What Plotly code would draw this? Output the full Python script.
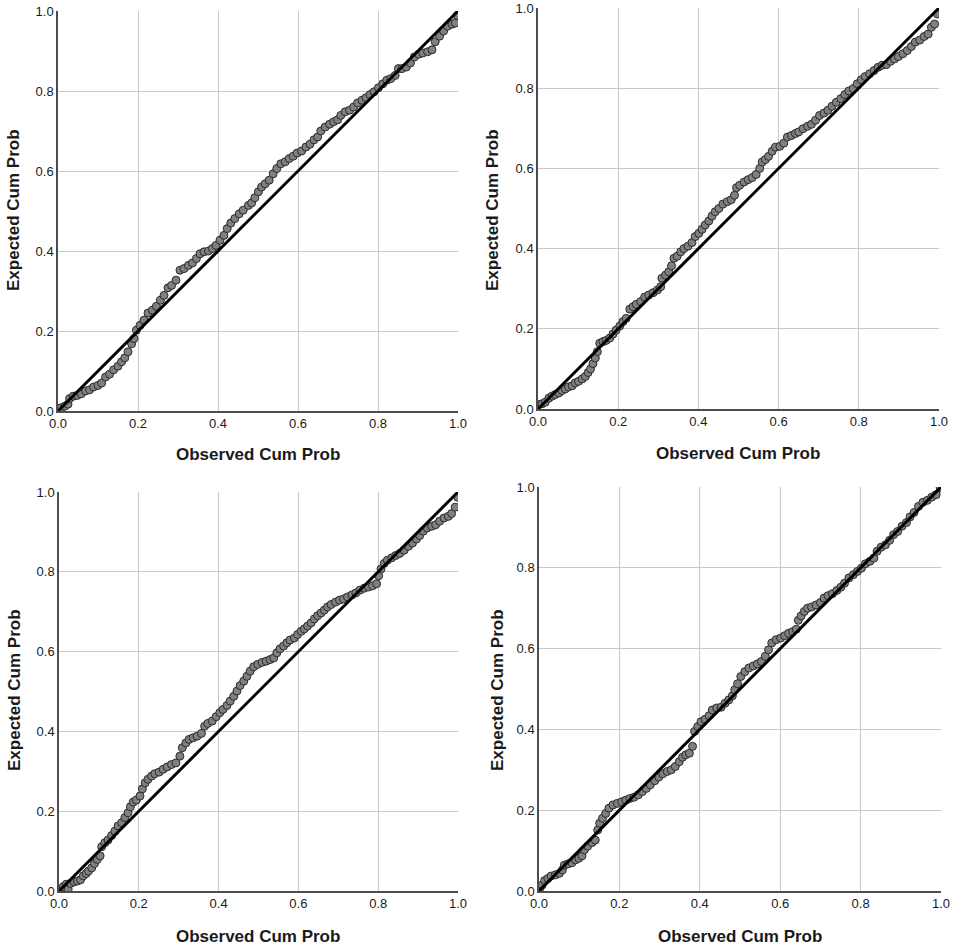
import plotly.graph_objects as go

# P-P plots: observed vs expected cumulative probability, four samples

# panel 1 (top left)
obs_1 = [0.001, 0.008, 0.017, 0.025, 0.029, 0.038, 0.048, 0.058, 0.069, 0.079, 0.089, 0.1, 0.109,
         0.119, 0.129, 0.139, 0.15, 0.159, 0.167, 0.175, 0.184, 0.19, 0.196, 0.205, 0.215, 0.225,
         0.236, 0.246, 0.256, 0.265, 0.275, 0.284, 0.295, 0.305, 0.315, 0.326, 0.336, 0.346, 0.355,
         0.365, 0.376, 0.386, 0.395, 0.405, 0.415, 0.423, 0.432, 0.442, 0.453, 0.463, 0.476, 0.484,
         0.492, 0.501, 0.509, 0.518, 0.528, 0.538, 0.547, 0.557, 0.568, 0.578, 0.588, 0.598, 0.609,
         0.62, 0.63, 0.64, 0.649, 0.657, 0.668, 0.679, 0.689, 0.699, 0.707, 0.718, 0.729, 0.739,
         0.749, 0.76, 0.77, 0.78, 0.79, 0.801, 0.812, 0.822, 0.832, 0.843, 0.851, 0.86, 0.871, 0.881,
         0.891, 0.902, 0.912, 0.924, 0.935, 0.943, 0.954, 0.964, 0.974, 0.985, 0.993, 0.998]
exp_1 = [0.006, 0.008, 0.012, 0.017, 0.031, 0.037, 0.039, 0.043, 0.05, 0.053, 0.06, 0.064, 0.07,
         0.085, 0.092, 0.103, 0.112, 0.123, 0.133, 0.148, 0.168, 0.181, 0.202, 0.214, 0.227, 0.245,
         0.252, 0.262, 0.277, 0.289, 0.308, 0.314, 0.327, 0.352, 0.356, 0.364, 0.37, 0.381, 0.393,
         0.398, 0.4, 0.406, 0.414, 0.427, 0.439, 0.456, 0.47, 0.481, 0.493, 0.502, 0.514, 0.52,
         0.533, 0.548, 0.56, 0.568, 0.577, 0.593, 0.606, 0.618, 0.623, 0.631, 0.637, 0.645, 0.65,
         0.66, 0.667, 0.678, 0.685, 0.7, 0.71, 0.717, 0.723, 0.728, 0.739, 0.748, 0.752, 0.76,
         0.77, 0.777, 0.783, 0.791, 0.798, 0.808, 0.818, 0.827, 0.831, 0.839, 0.856, 0.856, 0.86, 0.87,
         0.885, 0.892, 0.895, 0.898, 0.903, 0.923, 0.937, 0.95, 0.962, 0.967, 0.97, 0.989]

# panel 2 (top right)
obs_2 = [0.002, 0.01, 0.018, 0.027, 0.035, 0.043, 0.052, 0.06, 0.068, 0.076, 0.085, 0.093, 0.101,
         0.11, 0.118, 0.125, 0.131, 0.137, 0.143, 0.148, 0.154, 0.162, 0.17, 0.179, 0.187, 0.195,
         0.204, 0.212, 0.22, 0.229, 0.237, 0.245, 0.256, 0.266, 0.276, 0.287, 0.298, 0.306, 0.309,
         0.318, 0.326, 0.333, 0.339, 0.347, 0.356, 0.364, 0.374, 0.384, 0.392, 0.401, 0.409, 0.417,
         0.426, 0.434, 0.442, 0.451, 0.461, 0.472, 0.482, 0.49, 0.495, 0.503, 0.514, 0.524, 0.534,
         0.544, 0.553, 0.559, 0.567, 0.575, 0.584, 0.592, 0.603, 0.613, 0.622, 0.632, 0.642, 0.65,
         0.661, 0.672, 0.682, 0.692, 0.702, 0.713, 0.723, 0.733, 0.744, 0.755, 0.765, 0.775, 0.786,
         0.796, 0.806, 0.816, 0.827, 0.838, 0.848, 0.858, 0.869, 0.879, 0.889, 0.899, 0.91, 0.921,
         0.931, 0.941, 0.952, 0.963, 0.973, 0.981, 0.989, 0.996]
exp_2 = [0.011, 0.013, 0.017, 0.027, 0.032, 0.036, 0.04, 0.046, 0.05, 0.055, 0.058, 0.065, 0.069,
         0.075, 0.081, 0.091, 0.1, 0.113, 0.127, 0.143, 0.164, 0.168, 0.171, 0.177, 0.187, 0.197,
         0.207, 0.218, 0.226, 0.249, 0.255, 0.261, 0.268, 0.279, 0.284, 0.29, 0.297, 0.305, 0.326,
         0.334, 0.342, 0.357, 0.376, 0.381, 0.392, 0.4, 0.406, 0.415, 0.43, 0.438, 0.448, 0.459,
         0.469, 0.481, 0.492, 0.5, 0.511, 0.517, 0.522, 0.533, 0.552, 0.558, 0.566, 0.572, 0.577,
         0.585, 0.6, 0.616, 0.622, 0.63, 0.643, 0.653, 0.655, 0.663, 0.678, 0.682, 0.687, 0.691,
         0.699, 0.705, 0.71, 0.72, 0.732, 0.738, 0.745, 0.755, 0.765, 0.774, 0.784, 0.793, 0.799,
         0.811, 0.821, 0.829, 0.836, 0.844, 0.852, 0.857, 0.859, 0.867, 0.873, 0.879, 0.886, 0.894,
         0.904, 0.915, 0.92, 0.929, 0.935, 0.952, 0.96, 0.985]

# panel 3 (bottom left)
obs_3 = [0.003, 0.011, 0.018, 0.023, 0.029, 0.038, 0.046, 0.054, 0.061, 0.068, 0.074, 0.082, 0.089,
         0.096, 0.103, 0.107, 0.115, 0.123, 0.132, 0.14, 0.148, 0.157, 0.165, 0.173, 0.179, 0.186,
         0.194, 0.203, 0.209, 0.216, 0.223, 0.232, 0.24, 0.251, 0.261, 0.271, 0.282, 0.293, 0.303,
         0.309, 0.318, 0.326, 0.336, 0.346, 0.357, 0.365, 0.373, 0.384, 0.394, 0.403, 0.411, 0.421,
         0.429, 0.438, 0.446, 0.454, 0.463, 0.471, 0.479, 0.488, 0.498, 0.509, 0.519, 0.529, 0.538,
         0.546, 0.554, 0.563, 0.571, 0.579, 0.59, 0.598, 0.607, 0.615, 0.623, 0.632, 0.64, 0.648,
         0.657, 0.665, 0.673, 0.682, 0.693, 0.703, 0.713, 0.723, 0.734, 0.744, 0.754, 0.765, 0.776,
         0.786, 0.796, 0.801, 0.807, 0.815, 0.823, 0.834, 0.844, 0.854, 0.865, 0.876, 0.886, 0.896,
         0.904, 0.913, 0.923, 0.934, 0.944, 0.954, 0.965, 0.976, 0.984, 0.993, 0.999]
exp_3 = [0.004, 0.011, 0.017, 0.004, 0.019, 0.023, 0.025, 0.028, 0.038, 0.044, 0.05, 0.058, 0.069,
         0.079, 0.088, 0.111, 0.121, 0.128, 0.139, 0.15, 0.163, 0.171, 0.184, 0.196, 0.211, 0.223,
         0.228, 0.238, 0.256, 0.271, 0.28, 0.288, 0.294, 0.298, 0.305, 0.311, 0.317, 0.321, 0.338,
         0.359, 0.371, 0.38, 0.384, 0.388, 0.395, 0.413, 0.42, 0.426, 0.437, 0.447, 0.455, 0.465,
         0.476, 0.488, 0.501, 0.515, 0.526, 0.538, 0.551, 0.562, 0.568, 0.573, 0.576, 0.58, 0.584,
         0.597, 0.607, 0.614, 0.622, 0.629, 0.634, 0.643, 0.651, 0.657, 0.664, 0.672, 0.682, 0.69,
         0.697, 0.704, 0.712, 0.718, 0.724, 0.729, 0.732, 0.737, 0.742, 0.747, 0.754, 0.759, 0.762,
         0.765, 0.77, 0.79, 0.807, 0.821, 0.829, 0.835, 0.841, 0.846, 0.854, 0.864, 0.872, 0.882,
         0.891, 0.902, 0.91, 0.914, 0.918, 0.927, 0.935, 0.939, 0.946, 0.962, 0.987]

# panel 4 (bottom right)
obs_4 = [0.002, 0.008, 0.014, 0.022, 0.03, 0.041, 0.051, 0.058, 0.063, 0.072, 0.082, 0.091, 0.099,
         0.107, 0.113, 0.121, 0.132, 0.14, 0.146, 0.151, 0.158, 0.166, 0.174, 0.184, 0.195, 0.206,
         0.216, 0.226, 0.236, 0.247, 0.257, 0.267, 0.277, 0.288, 0.298, 0.308, 0.319, 0.329, 0.339,
         0.349, 0.357, 0.365, 0.374, 0.382, 0.387, 0.395, 0.403, 0.413, 0.423, 0.431, 0.442, 0.453,
         0.463, 0.472, 0.481, 0.487, 0.494, 0.502, 0.512, 0.522, 0.533, 0.543, 0.553, 0.563, 0.571,
         0.579, 0.59, 0.601, 0.611, 0.621, 0.631, 0.64, 0.645, 0.652, 0.66, 0.668, 0.678, 0.689,
         0.7, 0.709, 0.719, 0.73, 0.741, 0.751, 0.76, 0.771, 0.782, 0.792, 0.802, 0.812, 0.823,
         0.833, 0.841, 0.851, 0.862, 0.872, 0.882, 0.892, 0.903, 0.914, 0.923, 0.933, 0.944, 0.955,
         0.966, 0.977, 0.988, 0.998]
exp_4 = [0.007, 0.015, 0.026, 0.031, 0.037, 0.04, 0.044, 0.052, 0.064, 0.067, 0.07, 0.077, 0.081,
         0.087, 0.102, 0.111, 0.12, 0.126, 0.151, 0.168, 0.18, 0.192, 0.205, 0.213, 0.217, 0.221,
         0.225, 0.229, 0.232, 0.238, 0.246, 0.254, 0.263, 0.273, 0.282, 0.29, 0.296, 0.3, 0.308,
         0.32, 0.331, 0.337, 0.341, 0.358, 0.395, 0.407, 0.419, 0.425, 0.434, 0.448, 0.453, 0.455,
         0.465, 0.473, 0.483, 0.498, 0.513, 0.531, 0.543, 0.552, 0.557, 0.562, 0.568, 0.581, 0.597,
         0.614, 0.622, 0.626, 0.632, 0.638, 0.642, 0.648, 0.67, 0.681, 0.692, 0.7, 0.703, 0.708,
         0.714, 0.725, 0.731, 0.736, 0.744, 0.752, 0.762, 0.775, 0.783, 0.791, 0.799, 0.81, 0.816,
         0.824, 0.841, 0.851, 0.857, 0.868, 0.882, 0.89, 0.903, 0.912, 0.926, 0.937, 0.952, 0.962,
         0.967, 0.975, 0.981, 0.998]

panels = [(obs_1, exp_1), (obs_2, exp_2), (obs_3, exp_3), (obs_4, exp_4)]
diagonal = [0, 1]
ticks = [0, 0.2, 0.4, 0.6, 0.8, 1.0]
tick_text = ["0.0", "0.2", "0.4", "0.6", "0.8", "1.0"]

# full-window figure; plot boxes measured in window px off the reference
W, H = 957, 946
boxes = [(58, 458, 11, 411), (538, 939, 8, 409), (59, 458, 492, 891), (539, 941, 487, 891)]
xtitle_px = [(258, 454), (738, 453), (258, 936), (740, 936)]
ytitle_px = [(14, 210), (493, 210), (14, 690), (497, 690)]


def px_x(px):
    return px / W


def px_y(py):
    return 1 - py / H


fig = go.Figure()

for i, (obs, exp) in enumerate(panels):
    n = "" if i == 0 else str(i + 1)
    fig.add_trace(go.Scatter(
        x=obs, y=exp, mode="markers", xaxis="x" + n, yaxis="y" + n,
        marker=dict(size=8, color="#808080", line=dict(color="#2b2b2b", width=1)),
        showlegend=False, hoverinfo="x+y"))
    fig.add_trace(go.Scatter(
        x=diagonal, y=diagonal, mode="lines", xaxis="x" + n, yaxis="y" + n,
        line=dict(color="#000000", width=3), showlegend=False, hoverinfo="skip"))

axis_style = dict(
    range=[0, 1], tickvals=ticks, ticktext=tick_text,
    showgrid=True, gridcolor="#c8c8c8", gridwidth=1,
    showline=True, linecolor="#4d4d4d", linewidth=1.5,
    zeroline=False, ticks="", fixedrange=True, automargin=False,
    ticklabeloverflow="allow",
    tickfont=dict(family="Liberation Sans, Arial", size=13, color="#1a1a1a"),
)

layout = dict(
    width=W, height=H,
    margin=dict(l=0, r=0, t=0, b=0),
    paper_bgcolor="white", plot_bgcolor="white",
)
for i, (x0, x1, y_top, y_bot) in enumerate(boxes):
    n = "" if i == 0 else str(i + 1)
    layout["xaxis" + n] = dict(axis_style, domain=[px_x(x0), px_x(x1)], anchor="y" + n)
    layout["yaxis" + n] = dict(axis_style, domain=[px_y(y_bot), px_y(y_top)], anchor="x" + n)
fig.update_layout(**layout)

# axis titles placed as annotations
title_font = dict(family="Liberation Sans, Arial", size=17, color="#1a1a1a")
for i in range(4):
    fig.add_annotation(text="<b>Observed Cum Prob</b>", xref="paper", yref="paper",
                       x=px_x(xtitle_px[i][0]), y=px_y(xtitle_px[i][1]),
                       xanchor="center", yanchor="middle", showarrow=False, font=title_font)
    fig.add_annotation(text="<b>Expected Cum Prob</b>", xref="paper", yref="paper",
                       x=px_x(ytitle_px[i][0]), y=px_y(ytitle_px[i][1]),
                       xanchor="center", yanchor="middle", textangle=-90,
                       showarrow=False, font=title_font)

# drop the default page margin so the figure fills the window exactly
fig.write_html("out.html", config={"displayModeBar": False},
               post_script="document.body.style.margin = '0';")
